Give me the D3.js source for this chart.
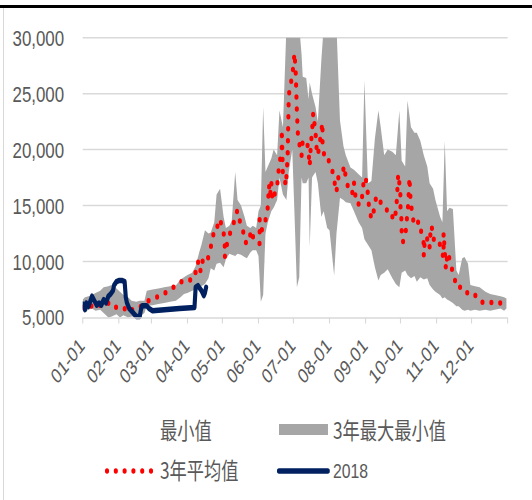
<!DOCTYPE html>
<html>
<head>
<meta charset="utf-8">
<script src="https://cdn.jsdelivr.net/npm/d3@7"></script>
<style>
  body { margin: 0; background: #fff; }
  svg { display: block; }
</style>
</head>
<body>
<svg id="chart" width="532" height="500"></svg>
<script>
// ---- data -------------------------------------------------------------
const bandDates = ["01-01","01-03","01-06","01-09","01-12","01-16","01-19","01-23","01-26","01-30",
  "02-02","02-05","02-09","02-12","02-16","02-19","02-23","02-25",
  "03-02","03-07","03-12","03-17","03-22","03-26","03-29",
  "04-01","04-05","04-08","04-11","04-13","04-16","04-19","04-21","04-24","04-26","04-29",
  "05-02","05-04","05-07","05-09","05-12","05-14","05-17","05-20","05-22","05-25","05-27","05-30",
  "06-01","06-03","06-05","06-07","06-09","06-12","06-14","06-17","06-19","06-22","06-25","06-27","06-30",
  "07-02","07-04","07-06","07-08","07-09","07-12","07-14","07-15","07-17","07-20","07-22","07-25","07-27","07-30",
  "08-01","08-05","08-07","08-10","08-13","08-15","08-19","08-22","08-26","08-29","08-31",
  "09-03","09-06","09-09","09-12","09-14","09-17","09-20","09-24","09-27","09-30",
  "10-02","10-05","10-07","10-10","10-13","10-15","10-18","10-21","10-24","10-26","10-29","10-31",
  "11-04","11-06","11-08","11-10","11-12","11-15","11-18","11-20","11-23","11-25","11-28","11-30",
  "12-04","12-08","12-13","12-17","12-21","12-26","12-29","12-31"];

// 3-year maximum
const bandMax = [6600,6800,6900,7000,7200,7400,7700,7800,7900,7600,
  7300,7000,6800,6500,6400,6500,6500,7400,
  7500,7600,7700,7800,7850,8400,8600,
  8800,9000,9600,10800,11500,12800,12500,12600,13500,16000,16500,
  14000,13000,13200,13600,18000,15500,15000,14000,13200,13000,13200,13000,
  14500,15000,23800,18000,18500,19200,20000,19500,23500,22000,31000,32000,32000,
  32000,32000,31000,28500,26500,26400,24500,26000,25000,23800,22500,28000,31000,32000,
  32000,32000,31000,22600,20300,19500,18400,18200,17800,17500,26200,
  17000,17200,21000,23500,22000,19500,20000,19800,19500,23500,
  19000,18500,24400,22000,21500,21500,20800,19500,18500,17000,16500,15500,
  14000,13500,20800,14500,14800,14700,9200,8800,10300,10400,9800,7900,
  7800,7700,7300,7100,7000,6900,6800,6700];

// 3-year minimum
const bandMin = [5600,5500,5700,5800,5600,5700,5400,5000,5100,5300,
  5000,5200,5000,5100,5000,5100,5400,6050,
  6100,6200,6300,6400,6500,6800,7100,
  7200,7400,7500,7700,7800,8000,8500,9400,9200,9800,9900,
  9500,10200,10700,10600,10500,10700,10600,10400,10300,10800,11000,11000,
  10500,6400,7000,12500,13500,14500,14800,15500,17500,16000,15500,18000,20000,
  14000,7700,8600,17500,17000,17000,17500,11300,17500,18000,17000,14000,14500,13000,
  12800,8750,12500,15700,15500,15300,15200,14500,13500,13000,12000,
  11500,11000,9500,8300,8800,9000,9300,8500,8000,7700,
  9000,9200,8800,8500,8700,8200,8600,8400,8500,7900,7500,7300,
  7000,6700,6800,6600,6500,6300,6000,6000,5700,5600,5700,5600,
  5700,5600,5700,5600,5700,5800,5600,5800];

// 3-year average
const avgDates = ["01-01","01-04","01-07","01-11","01-14","01-18","01-21","01-24","01-28","01-31",
  "02-05","02-09","02-14","02-19","02-24",
  "03-02","03-08","03-14","03-20","03-26",
  "04-01","04-05","04-08","04-10","04-12","04-13","04-17","04-20","04-22","04-24","04-26","04-28","04-30",
  "05-02","05-03","05-03","05-05","05-07","05-10","05-12","05-14","05-16","05-19","05-20","05-23","05-26","05-28","05-31",
  "06-02","06-02","06-04","06-05","06-07","06-09","06-10","06-11","06-12","06-13","06-15","06-17","06-18","06-19",
  "06-21","06-21","06-22","06-25","06-25","06-26","06-27","06-28","06-30",
  "07-01","07-02","07-03","07-04","07-05","07-07","07-08","07-09","07-13","07-14","07-15","07-16","07-17","07-18",
  "07-20","07-21","07-22","07-24","07-25","07-26","07-26","07-28","07-31",
  "08-03","08-05","08-07","08-08","08-10","08-13","08-14","08-15","08-18","08-19","08-21","08-22","08-24",
  "08-29","08-29","08-30","08-31",
  "09-02","09-03","09-04","09-06","09-09","09-10","09-12","09-15","09-19","09-21","09-24","09-25","09-27",
  "09-28","09-29","09-30",
  "10-01","10-01","10-02","10-02","10-03","10-05","10-06","10-07","10-08","10-08","10-09","10-09","10-10",
  "10-11","10-13","10-15","10-17","10-19","10-21","10-21","10-22","10-24","10-26","10-26","10-28","10-28","10-29",
  "11-01","11-03","11-05","11-07","11-07","11-09","11-10","11-11","11-13","11-16","11-18","11-23","11-26","11-28",
  "12-05","12-10","12-16","12-22","12-28","12-31"];
const avgValues = [5900,6000,6100,5900,6000,6200,6100,6350,5950,5900,
  5900,5450,5800,5900,6350,
  6700,6900,7270,7700,8150,
  8400,8300,9050,10000,9050,10100,9800,10750,11800,12800,12800,13800,13400,
  12600,11600,10400,11600,12400,13050,14200,14550,13600,12600,11750,11600,12800,11900,11750,
  11600,13800,12800,13050,13700,14850,16800,15900,17100,15450,16050,16650,17850,18900,
  19700,21800,17550,16800,17800,19200,24700,25700,26450,
  27650,28600,26800,23350,21100,20050,19450,20850,20500,19750,18550,20500,21550,23250,
  21500,20000,19500,20900,21700,22400,20500,19100,19100,
  18350,17250,16200,17250,18100,18250,18550,17300,16350,16050,16200,17100,15150,
  15150,16200,16800,17550,
  17100,16000,14850,13800,14900,15800,15300,15300,14700,14000,14000,13650,14400,
  15700,17800,17000,
  15800,14700,13550,12500,11750,12100,13300,14400,15500,16600,17500,16300,15300,
  14200,13200,13400,13600,12550,11600,10500,12200,12000,11150,12000,13200,12600,12000,
  12000,12000,10850,10400,12550,9350,10400,10800,9700,8750,7700,7700,7550,7050,
  6950,6350,6400,6200,6350,6300];

// 2018
const y2018Dates = ["01-01","01-03","01-04","01-06","01-09","01-11","01-13","01-15","01-17","01-19",
  "01-21","01-23","01-25","01-27","01-28","01-30","02-01","02-04","02-06","02-07","02-08","02-10",
  "02-13","02-16","02-19","02-20","02-21","02-25","02-27","03-02","03-25","04-07","04-08","04-10",
  "04-11","04-13","04-15","04-16","04-17"];
const y2018Values = [6200,5700,6300,6000,6900,6500,6100,6300,6100,6600,
  6300,6900,7100,7400,7900,8200,8300,8300,8200,6800,6300,5800,
  5450,5100,5100,5700,6050,6050,5800,5600,5800,5900,7700,7850,
  7700,7400,6950,7200,7700];

const yTicks = [5000, 10000, 15000, 20000, 25000, 30000];
const monthLabels = ["01-01","02-01","03-01","04-01","05-01","06-01","07-01","08-01","09-01","10-01","11-01","12-01"];
const seriesNames = ["最小值", "3年最大最小值", "3年平均值", "2018"];

// ---- layout -------------------------------------------------------------
// The whole figure is drawn on a wider canvas and narrowed horizontally.
const SX = 0.75;
const H = 500;
const plotLeft = 110.3, plotRight = 676.8;
const plotTop = 37.7, plotBottom = 317.5;

const colors = {
  band: "#a6a6a6",
  avg: "#ff0000",
  y2018: "#002060",
  grid: "#d9d9d9",
  text: "#595959"
};

const parse = d3.timeParse("%Y-%m-%d");
const toDate = s => parse("2018-" + s);

const x = d3.scaleTime()
  .domain([new Date(2018, 0, 1), new Date(2019, 0, 1)])
  .range([plotLeft, plotRight]);
const y = d3.scaleLinear()
  .domain([5000, 30000])
  .range([plotBottom, plotTop]);

const band = bandDates.map((d, i) => ({ date: toDate(d), min: bandMin[i], max: bandMax[i] }));
const avg = avgDates.map((d, i) => ({ date: toDate(d), v: avgValues[i] }));
const cur = y2018Dates.map((d, i) => ({ date: toDate(d), v: y2018Values[i] }));

const svg = d3.select("#chart");

// frame
svg.append("line").attr("x1", 3.5).attr("x2", 3.5).attr("y1", 6).attr("y2", H)
  .attr("stroke", colors.grid).attr("stroke-width", 1);
svg.append("line").attr("x1", 0).attr("x2", 532).attr("y1", 6.5).attr("y2", 6.5)
  .attr("stroke", "#000").attr("stroke-width", 3);

const g = svg.append("g").attr("transform", `scale(${SX},1)`);

g.append("defs").append("clipPath").attr("id", "plotClip")
  .append("rect")
  .attr("x", plotLeft).attr("y", plotTop)
  .attr("width", plotRight - plotLeft).attr("height", plotBottom - plotTop + 4);

// horizontal gridlines
g.append("g").selectAll("line")
  .data(yTicks.filter(v => v > 5000))
  .join("line")
  .attr("x1", plotLeft).attr("x2", plotRight)
  .attr("y1", d => y(d)).attr("y2", d => y(d))
  .attr("stroke", colors.grid).attr("stroke-width", 1.5);

// y tick labels
g.append("g").selectAll("text")
  .data(yTicks)
  .join("text")
  .attr("x", 85.5)
  .attr("y", d => y(d) + 8)
  .attr("text-anchor", "end")
  .attr("font-family", "'Liberation Sans', Arial, sans-serif")
  .attr("font-size", 22.5)
  .attr("fill", colors.text)
  .text(d3.format(","));

const plot = g.append("g").attr("clip-path", "url(#plotClip)");

// white area under the minimum (first stacked series)
plot.append("path")
  .datum(band)
  .attr("fill", "#fff")
  .attr("d", d3.area().x(d => x(d.date)).y0(y(5000)).y1(d => y(d.min)));

// grey min–max band
plot.append("path")
  .datum(band)
  .attr("fill", colors.band)
  .attr("d", d3.area().x(d => x(d.date)).y0(d => y(d.min)).y1(d => y(d.max)));

// 3-year average as a round-dot line
plot.append("path")
  .datum(avg)
  .attr("fill", "none")
  .attr("stroke", colors.avg)
  .attr("stroke-width", 5.5)
  .attr("stroke-linecap", "round")
  .attr("stroke-dasharray", "0 12")
  .attr("d", d3.line().x(d => x(d.date)).y(d => y(d.v)));

// 2018 line
plot.append("path")
  .datum(cur)
  .attr("fill", "none")
  .attr("stroke", colors.y2018)
  .attr("stroke-width", 5.5)
  .attr("stroke-linejoin", "round")
  .attr("stroke-linecap", "round")
  .attr("d", d3.line().x(d => x(d.date)).y(d => y(d.v)));

// x axis
const monthTicks = d3.timeMonth.range(new Date(2018, 0, 1), new Date(2019, 0, 2));
const xAxis = g.append("g");
xAxis.append("line")
  .attr("x1", plotLeft).attr("x2", plotRight)
  .attr("y1", y(5000) + 0.5).attr("y2", y(5000) + 0.5)
  .attr("stroke", colors.grid).attr("stroke-width", 1.5);
xAxis.selectAll("line.tick")
  .data(monthTicks)
  .join("line")
  .attr("class", "tick")
  .attr("x1", d => x(d)).attr("x2", d => x(d))
  .attr("y1", y(5000)).attr("y2", y(5000) + 6)
  .attr("stroke", colors.grid).attr("stroke-width", 1.5);
xAxis.selectAll("text")
  .data(monthLabels)
  .join("text")
  .attr("transform", d => `translate(${x(toDate(d)) + 4},347) rotate(-45)`)
  .attr("text-anchor", "end")
  .attr("font-family", "'Liberation Sans', Arial, sans-serif")
  .attr("font-size", 21)
  .attr("fill", colors.text)
  .text(d => d);

// legend
const cjk = "'Noto Sans CJK SC', 'Liberation Sans', sans-serif";
const lg = g.append("g");
// 最小值 (white fill, no visible key)
lg.append("rect").attr("x", 138).attr("y", 424).attr("width", 65).attr("height", 11).attr("fill", "#fff");
lg.append("text").attr("x", 213.3).attr("y", 439.5)
  .attr("font-family", cjk).attr("font-size", 23).attr("fill", colors.text).text(seriesNames[0]);
// 3年最大最小值
lg.append("rect").attr("x", 372).attr("y", 424).attr("width", 65.3).attr("height", 11).attr("fill", colors.band);
lg.append("text").attr("x", 444).attr("y", 439.5)
  .attr("font-family", cjk).attr("font-size", 23).attr("fill", colors.text).text(seriesNames[1]);
// 3年平均值
lg.append("line").attr("x1", 142.7).attr("x2", 201.5).attr("y1", 471).attr("y2", 471)
  .attr("stroke", colors.avg).attr("stroke-width", 5.5)
  .attr("stroke-linecap", "round").attr("stroke-dasharray", "0 11.73");
lg.append("text").attr("x", 213.3).attr("y", 479.5)
  .attr("font-family", cjk).attr("font-size", 23).attr("fill", colors.text).text(seriesNames[2]);
// 2018
lg.append("line").attr("x1", 372).attr("x2", 437).attr("y1", 471).attr("y2", 471)
  .attr("stroke", colors.y2018).attr("stroke-width", 5.5).attr("stroke-linecap", "round");
lg.append("text").attr("x", 444).attr("y", 478.5)
  .attr("font-family", "'Liberation Sans', Arial, sans-serif").attr("font-size", 21)
  .attr("fill", colors.text).text(seriesNames[3]);
</script>
</body>
</html>
